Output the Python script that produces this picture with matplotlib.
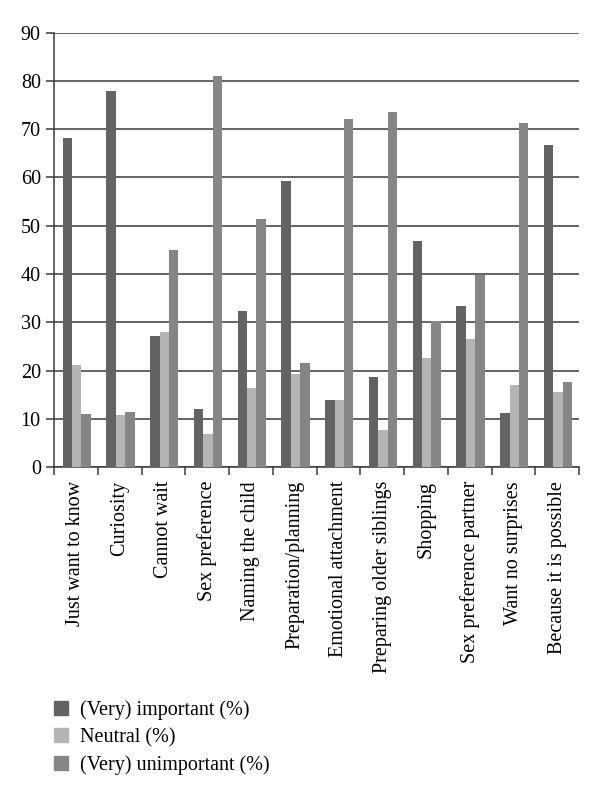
import numpy as np
import matplotlib
matplotlib.use('Agg')
import matplotlib.pyplot as plt
from matplotlib.patches import Patch

categories = ['Just want to know', 'Curiosity', 'Cannot wait', 'Sex preference',
              'Naming the child', 'Preparation/planning', 'Emotional attachment',
              'Preparing older siblings', 'Shopping', 'Sex preference partner',
              'Want no surprises', 'Because it is possible']
important = [68.1, 78.0, 27.2, 12.0, 32.3, 59.2, 13.8, 18.6, 46.8, 33.4, 11.3, 66.8]
neutral = [21.1, 10.7, 27.9, 6.9, 16.4, 19.2, 13.8, 7.7, 22.6, 26.5, 17.0, 15.5]
unimportant = [10.9, 11.4, 45.0, 81.1, 51.3, 21.6, 72.1, 73.5, 30.3, 39.8, 71.3, 17.6]
series_names = ['(Very) important (%)', 'Neutral (%)', '(Very) unimportant (%)']
colors = ['#636363', '#b4b4b4', '#868686']

plt.rcParams['font.family'] = ['Liberation Serif', 'DejaVu Serif']

fig = plt.figure(figsize=(6, 7.97), dpi=100)
ax = fig.add_axes([0.09, 0.414, 0.875, 0.545])

x = np.arange(len(categories))
w = 0.215
for i, vals in enumerate([important, neutral, unimportant]):
    ax.bar(x + (i - 1) * w + 0.02, vals, w, color=colors[i], zorder=3)

ax.set_xlim(-0.5, len(categories) - 0.5)
ax.set_ylim(0, 90)
ax.set_yticks(range(0, 91, 10))
ax.yaxis.grid(True, color='#3a3a3a', linewidth=1.1, zorder=0)
ax.set_axisbelow(True)
for s in ['top', 'right']:
    ax.spines[s].set_visible(False)
ax.spines['left'].set_color('#3a3a3a')
ax.spines['bottom'].set_color('#3a3a3a')
ax.spines['left'].set_linewidth(1.1)
ax.spines['bottom'].set_linewidth(1.1)

ax.set_xticks(x)
ax.set_xticklabels(categories, rotation=90, fontsize=14.5)
ax.tick_params(axis='x', length=0, pad=10)
ax.set_xticks(np.arange(-0.5, len(categories) + 0.5, 1), minor=True)
ax.tick_params(axis='x', which='minor', length=6, color='#3a3a3a', width=1.1)
ax.tick_params(axis='y', labelsize=14.5, length=6, color='#3a3a3a', width=1.1)

handles = [Patch(color=c) for c in colors]
fig.legend(handles, series_names, loc='lower left', bbox_to_anchor=(0.06, 0.005),
           frameon=False, fontsize=14.5, handlelength=0.7, handleheight=0.7,
           labelspacing=0.4, handletextpad=0.6)

fig.savefig('out.png', dpi=100)
